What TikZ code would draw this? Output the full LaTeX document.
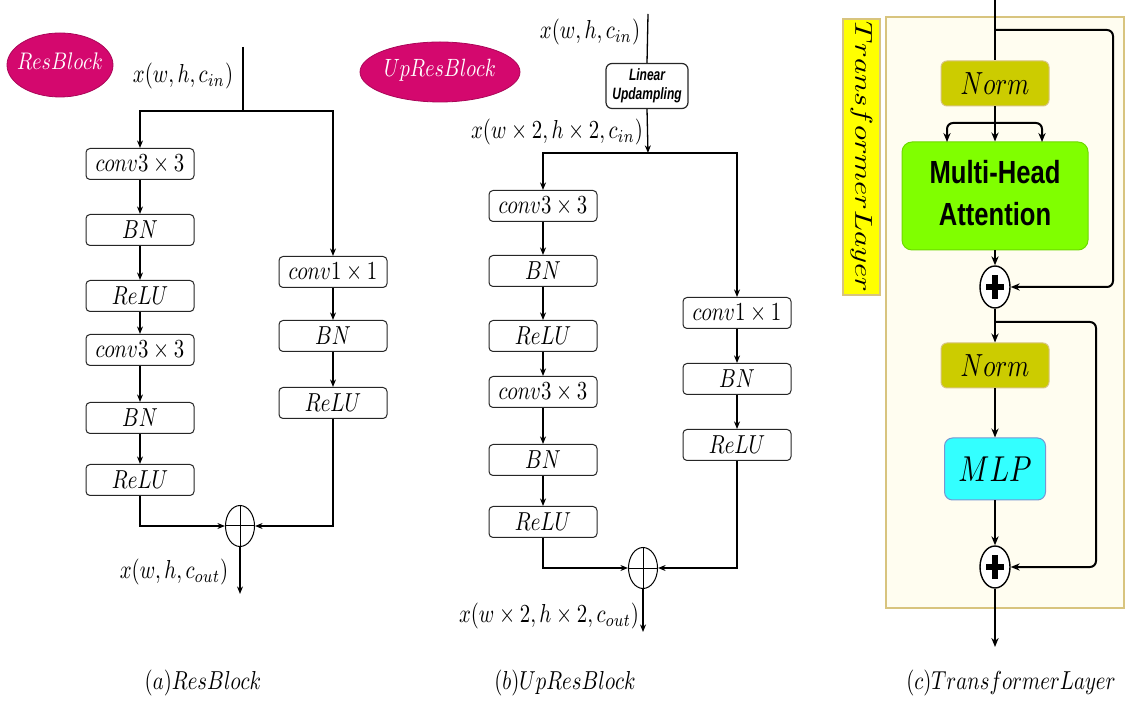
\documentclass[tikz,border=0pt]{standalone}
\usepackage{fontspec}
\setsansfont{Liberation Sans}
\usepackage{graphicx}
\usetikzlibrary{arrows.meta,shapes.geometric,calc}

\definecolor{rbmag}{RGB}{212,8,110}
\definecolor{normfill}{RGB}{204,204,0}
\definecolor{attfill}{RGB}{128,255,0}
\definecolor{mlpfill}{RGB}{51,255,255}
\definecolor{mlpedge}{RGB}{120,150,210}
\definecolor{panelbg}{RGB}{255,253,240}
\definecolor{paneledge}{RGB}{216,196,126}
\definecolor{tagfill}{RGB}{255,255,0}

% math labels, slightly condensed
\newcommand{\bt}[1]{\scalebox{1.04}[1.3]{$#1$}}

\begin{document}
\begin{tikzpicture}[x=0.5pt,y=-0.5pt,
  blk/.style={draw=black!85,rounded corners=2pt,minimum width=54pt,minimum height=15.5pt,
    inner sep=0pt,line width=0.5pt,fill=white},
  linbox/.style={draw=black!85,rounded corners=3pt,minimum width=41pt,minimum height=22.5pt,
    inner sep=0pt,line width=0.6pt,fill=white},
  arr/.style={line width=0.65pt,-{Stealth[length=3.8pt,width=3pt]}},
  ln/.style={line width=0.65pt},
  sumnode/.style={draw,ellipse,minimum width=14.5pt,minimum height=20.5pt,inner sep=0pt,line width=0.5pt},
  tag/.style={ellipse,fill=rbmag,draw=rbmag!80!black,line width=0.4pt,inner sep=0pt},
  carr/.style={line width=1pt,-{Stealth[length=4.5pt,width=3.6pt]}},
  cln/.style={line width=1pt},
  cplus/.style={draw,ellipse,fill=white,minimum width=15pt,minimum height=21pt,inner sep=0pt,line width=0.7pt},
  normbox/.style={fill=normfill,draw=paneledge,line width=0.5pt,rounded corners=3pt,
    minimum width=54pt,minimum height=22.5pt,inner sep=0pt},
  attbox/.style={fill=attfill,draw=attfill!85!black,line width=0.5pt,rounded corners=5pt,
    minimum width=93pt,minimum height=54pt,inner sep=0pt},
  mlpbox/.style={fill=mlpfill,draw=mlpedge,line width=0.5pt,rounded corners=4pt,
    minimum width=50.5pt,minimum height=31pt,inner sep=0pt},
  plusbar/.style={line width=3pt}
]
\useasboundingbox (0,0) rectangle (1128,704);

%% ---------------- (a) ResBlock ----------------
\node[tag,minimum width=53pt,minimum height=32pt] (tga) at (60,65) {};
\node[text=white] (tgat) at (60,61) {\scalebox{1.0}[1.2]{$ResBlock$}};

\node (ainl) at (183,76) {\bt{x(w,h,c_{in})}};
\coordinate (ain) at (243,47);
\coordinate (asplit) at (243,111);

\node[blk] (a1) at (140,164) {\bt{conv3\times3}};
\node[blk] (a2) at (140,230) {\bt{BN}};
\node[blk] (a3) at (140,296) {\bt{ReLU}};
\node[blk] (a4) at (140,350) {\bt{conv3\times3}};
\node[blk] (a5) at (140,418) {\bt{BN}};
\node[blk] (a6) at (140,480) {\bt{ReLU}};

\node[blk] (ar1) at (333,272) {\bt{conv1\times1}};
\node[blk] (ar2) at (333,336) {\bt{BN}};
\node[blk] (ar3) at (333,403) {\bt{ReLU}};

\node[sumnode] (asum) at (240,526) {};
\draw[line width=0.5pt] (asum.north) -- (asum.south) (asum.west) -- (asum.east);

\draw[ln] (ain) -- (asplit);
\draw[arr] (asplit) -| (a1.north);
\draw[arr] (asplit) -| (ar1.north);
\draw[arr] (a1) -- (a2);
\draw[arr] (a2) -- (a3);
\draw[arr] (a3) -- (a4);
\draw[arr] (a4) -- (a5);
\draw[arr] (a5) -- (a6);
\draw[arr] (ar1) -- (ar2);
\draw[arr] (ar2) -- (ar3);
\draw[arr] (a6.south) |- (asum.west);
\draw[arr] (ar3.south) |- (asum.east);
\coordinate (aout) at (240,594);
\draw[arr] (asum.south) -- (aout);
\node (aoutl) at (174,572) {\bt{x(w,h,c_{out})}};

\node (capa) at (203,683) {\bt{(a)ResBlock}};

%% ---------------- (b) UpResBlock ----------------
\node[tag,minimum width=80pt,minimum height=30pt] (tgb) at (440,72) {};
\node[text=white] (tgbt) at (440,70) {\scalebox{1.0}[1.25]{$UpResBlock$}};

\node (binl) at (590,32) {\bt{x(w,h,c_{in})}};
\coordinate (bin) at (648,14);
\node[linbox] (lin) at (647,86)
  {\scalebox{0.6}[0.82]{\sffamily\bfseries\itshape\begin{tabular}{@{}c@{}}Linear\\Updampling\end{tabular}}};
\node (bmidl) at (557,132) {\bt{x(w\times2,h\times2,c_{in})}};
\coordinate (bsplit) at (648,153);

\node[blk] (b1) at (543,206) {\bt{conv3\times3}};
\node[blk] (b2) at (543,271) {\bt{BN}};
\node[blk] (b3) at (543,336) {\bt{ReLU}};
\node[blk] (b4) at (543,392) {\bt{conv3\times3}};
\node[blk] (b5) at (543,460) {\bt{BN}};
\node[blk] (b6) at (543,522) {\bt{ReLU}};

\node[blk] (br1) at (737,313) {\bt{conv1\times1}};
\node[blk] (br2) at (737,379) {\bt{BN}};
\node[blk] (br3) at (737,445) {\bt{ReLU}};

\node[sumnode] (bsum) at (643,568) {};
\draw[line width=0.5pt] (bsum.north) -- (bsum.south) (bsum.west) -- (bsum.east);

\draw[ln] (bin) -- (lin.north);
\draw[arr] (lin.south) -- (bsplit);
\draw[arr] (bsplit) -| (b1.north);
\draw[arr] (bsplit) -| (br1.north);
\draw[arr] (b1) -- (b2);
\draw[arr] (b2) -- (b3);
\draw[arr] (b3) -- (b4);
\draw[arr] (b4) -- (b5);
\draw[arr] (b5) -- (b6);
\draw[arr] (br1) -- (br2);
\draw[arr] (br2) -- (br3);
\draw[arr] (b6.south) |- (bsum.west);
\draw[arr] (br3.south) |- (bsum.east);
\coordinate (bout) at (643,632);
\draw[arr] (bsum.south) -- (bout);
\node (boutl) at (549,616) {\bt{x(w\times2,h\times2,c_{out})}};

\node (capb) at (565,683) {\bt{(b)UpResBlock}};

%% ---------------- (c) TransformerLayer ----------------
\draw[fill=panelbg,draw=paneledge,line width=0.8pt] (886,17) rectangle (1124,608);
\node[fill=tagfill,draw=paneledge,line width=0.8pt,minimum width=138pt,minimum height=18.5pt,
  inner sep=0pt,rotate=-90] (ctag) at (861.5,157) {\scalebox{1.53}[1.22]{$TransformerLayer$}};

\node[normbox] (cn1) at (995,83.5) {\scalebox{1.25}[1.6]{$Norm$}};
\node[attbox] (cmha) at (995,196)
  {\scalebox{1.28}[1.6]{\sffamily\bfseries\renewcommand\arraystretch{1.1}\begin{tabular}{@{}c@{}}Multi-Head\\Attention\end{tabular}}};
\node[cplus] (cp1) at (995,287) {};
\node[normbox] (cn2) at (995,365.5) {\scalebox{1.25}[1.6]{$Norm$}};
\node[mlpbox] (cmlp) at (995,469) {\scalebox{1.44}[1.8]{$MLP$}};
\node[cplus] (cp2) at (995,567) {};

% bold plus signs inside the adders
\foreach \p in {cp1,cp2}{
  \draw[plusbar] ($(\p.center)+(0,-12)$) -- ($(\p.center)+(0,12)$);
  \draw[plusbar] ($(\p.center)+(-9,0)$) -- ($(\p.center)+(9,0)$);
}

\coordinate (ctop) at (995,0);
\coordinate (cres1) at (995,30);
\coordinate (cturn1) at (1113,287);
\coordinate (cbr) at (995,123);
\coordinate (cbl) at (947,142);
\coordinate (cbrr) at (1042,142);
\coordinate (cres2) at (995,322);
\coordinate (cturn2) at (1096,567);
\coordinate (cout) at (995,647);

\draw[cln] (ctop) -- (cn1.north);
\draw[carr,rounded corners=3pt] (cres1) -| (cturn1) -- (cp1.east);
\draw[carr] (cn1.south) -- (cmha.north);
\draw[carr,rounded corners=3pt] (cbr) -| (cbl);
\draw[carr,rounded corners=3pt] (cbr) -| (cbrr);
\draw[carr] (cmha.south) -- (cp1.north);
\draw[carr] (cp1.south) -- (cn2.north);
\draw[carr,rounded corners=3pt] (cres2) -| (cturn2) -- (cp2.east);
\draw[carr] (cn2.south) -- (cmlp.north);
\draw[carr] (cmlp.south) -- (cp2.north);
\draw[carr] (cp2.south) -- (cout);

\node (capc) at (1011,683) {\bt{(c)TransformerLayer}};
\end{tikzpicture}
\end{document}
